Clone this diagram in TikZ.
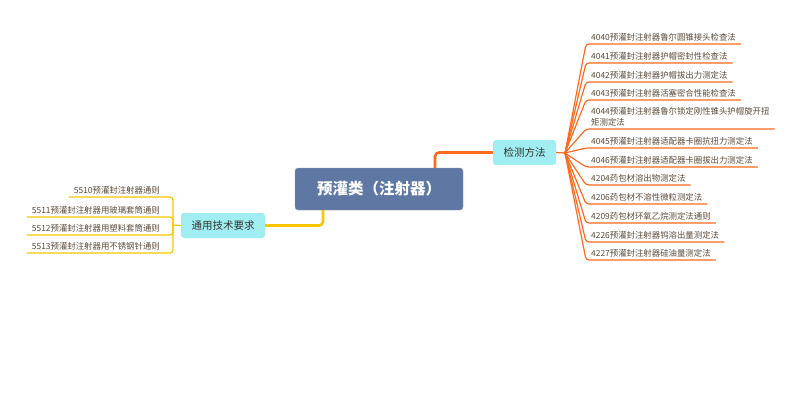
\documentclass[tikz,border=0pt]{standalone}
\usepackage{fontspec}
\setmainfont{Noto Sans CJK SC}
\begin{document}
\begin{tikzpicture}[x=1pt,y=-1pt,
  rootbox/.style={draw=rootborder, fill=rootfill, rounded corners=3pt, minimum width=168pt, minimum height=42pt, inner sep=0pt, text=white, font=\fontsize{15.5}{18}\selectfont\bfseries},
  subbox/.style={fill=subfill, rounded corners=3pt, minimum height=25pt, inner sep=0pt, text=subtext, font=\fontsize{10.5}{12}\selectfont},
  itemtext/.style={inner xsep=5pt, inner ysep=3pt, text=itemcol, font=\fontsize{8.4}{10.8}\selectfont, align=left},
  orline/.style={draw=orangeC, line width=1.2pt, rounded corners=3pt},
  yeline/.style={draw=yellowC, line width=1.2pt, rounded corners=3pt},
]
\definecolor{rootfill}{HTML}{5E78A3}
\definecolor{rootborder}{HTML}{98A4B6}
\definecolor{subfill}{HTML}{A0EEF2}
\definecolor{subtext}{HTML}{333333}
\definecolor{itemcol}{HTML}{5B4B3B}
\definecolor{orangeC}{HTML}{FF6B1E}
\definecolor{yellowC}{HTML}{F6C700}
\useasboundingbox (0,0) rectangle (800,400);
\fill[white] (0,0) rectangle (800,400);

% main nodes
\node[rootbox] (root) at (379,189) {预灌类（注射器）};
\node[subbox, minimum width=63pt] (jc) at (524.5,152.5) {检测方法};
\node[subbox, minimum width=84pt] (ty) at (223,225.5) {通用技术要求};

% main connectors
\draw[draw=orangeC, line width=2.6pt, rounded corners=4pt] ([xshift=56pt]root.north) |- (jc.west);
\draw[draw=yellowC, line width=2.6pt, rounded corners=4pt] ([xshift=-56pt]root.south) |- (ty.east);

% right items
\coordinate (fo) at (565,153);
\draw[orline] (jc.east) -- (fo);
\node[itemtext, anchor=south west] (r1) at (586,44) {4040预灌封注射器鲁尔圆锥接头检查法};
\node[itemtext, anchor=south west] (r2) at (586,63) {4041预灌封注射器护帽密封性检查法};
\node[itemtext, anchor=south west] (r3) at (586,82) {4042预灌封注射器护帽拔出力测定法};
\node[itemtext, anchor=south west] (r4) at (586,100) {4043预灌封注射器活塞密合性能检查法};
\node[itemtext, anchor=south west] (r5) at (586,129) {4044预灌封注射器鲁尔锁定刚性锥头护帽旋开扭\\矩测定法};
\node[itemtext, anchor=south west] (r6) at (586,148) {4045预灌封注射器适配器卡圈抗扭力测定法};
\node[itemtext, anchor=south west] (r7) at (586,167) {4046预灌封注射器适配器卡圈拔出力测定法};
\node[itemtext, anchor=south west] (r8) at (586,185) {4204药包材溶出物测定法};
\node[itemtext, anchor=south west] (r9) at (586,204) {4206药包材不溶性微粒测定法};
\node[itemtext, anchor=south west] (r10) at (586,223) {4209药包材环氧乙烷测定法通则};
\node[itemtext, anchor=south west] (r11) at (586,242) {4226预灌封注射器钨溶出量测定法};
\node[itemtext, anchor=south west] (r12) at (586,260) {4227预灌封注射器硅油量测定法};
\foreach \n in {r1,r2,r3,r4,r5,r6,r7,r8,r9,r10,r11,r12}{
  \draw[orline] (fo) -- (\n.south west) -- (\n.south east);
}

% left items
\coordinate (lo) at (173,225);
\draw[yeline] (ty.west) -- (lo);
\node[itemtext, anchor=south east] (l1) at (165,197) {5510预灌封注射器通则};
\node[itemtext, anchor=south east] (l2) at (165,217) {5511预灌封注射器用玻璃套筒通则};
\node[itemtext, anchor=south east] (l3) at (165,235) {5512预灌封注射器用塑料套筒通则};
\node[itemtext, anchor=south east] (l4) at (165,253) {5513预灌封注射器用不锈钢针通则};
\foreach \n in {l1,l2,l3,l4}{
  \draw[yeline] (lo) -- (lo |- \n.south) -- (\n.south west);
}
\end{tikzpicture}
\end{document}
